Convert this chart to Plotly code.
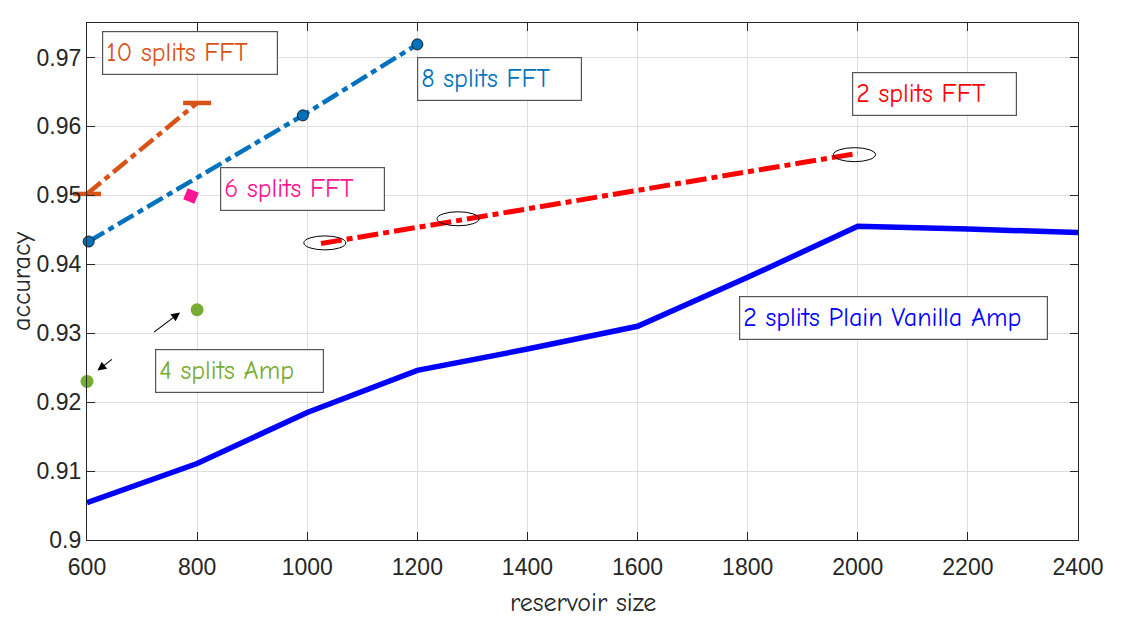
import plotly.graph_objects as go

# ---------------- data ----------------
vanilla_x = [600, 800, 1000, 1200, 1400, 1600, 1800, 2000, 2200, 2400]
vanilla_y = [0.9054, 0.9111, 0.9185, 0.9246, 0.9277, 0.9310, 0.9381, 0.9455, 0.9451, 0.9446]

fft2_x = [1025, 2000]
fft2_y = [0.9430, 0.9561]
fft2_circled_x = [1032, 1274, 1994]
fft2_circled_y = [0.9431, 0.9466, 0.9559]

fft8_x = [603, 992, 1200]
fft8_y = [0.9433, 0.9616, 0.9719]

fft10_x = [600, 800]
fft10_y = [0.9502, 0.9634]

fft6_x = [789]
fft6_y = [0.9499]

amp4_x = [600, 800]
amp4_y = [0.9230, 0.9334]

x_ticks = [600, 800, 1000, 1200, 1400, 1600, 1800, 2000, 2200, 2400]
y_ticks = [0.90, 0.91, 0.92, 0.93, 0.94, 0.95, 0.96, 0.97]
y_ticktext = ["0.9", "0.91", "0.92", "0.93", "0.94", "0.95", "0.96", "0.97"]

# labels: text, colour, left x, centre y, box width px
labels = [
    ("10 splits FFT", "#D95319", 627, 0.97062, 178),
    ("8 splits FFT", "#0072BD", 1199, 0.96694, 167),
    ("2 splits FFT", "#FF0000", 1990, 0.96467, 167),
    ("6 splits FFT", "#FF1493", 841, 0.95095, 167),
    ("4 splits Amp", "#77AC30", 723, 0.92449, 171),
    ("2 splits Plain Vanilla Amp", "#0000FF", 1785, 0.93220, 311),
]

# arrows pointing at the 4-split points: (head x, head y, tail x, tail y)
arrows = [
    (769, 0.9330, 719, 0.9300),
    (619, 0.92458, 648, 0.92637),
]

COMIC = "Comic Sans MS, Comic Neue, Noto Sans, sans-serif"
TICKFONT = "Liberation Sans, Arial, sans-serif"

fig = go.Figure()

fig.add_trace(go.Scatter(
    x=vanilla_x, y=vanilla_y, mode="lines",
    line=dict(color="#0000FF", width=5.5), showlegend=False))

fig.add_trace(go.Scatter(
    x=fft2_x, y=fft2_y, mode="lines",
    line=dict(color="#FF0000", width=5, dash="21px,5px,6px,5px"), showlegend=False))

fig.add_trace(go.Scatter(
    x=fft8_x, y=fft8_y, mode="lines+markers",
    line=dict(color="#0072BD", width=4.5, dash="18px,5px,6px,5px"),
    marker=dict(color="#0072BD", size=11, line=dict(color="#1a1a1a", width=1)),
    cliponaxis=False, showlegend=False))

fig.add_trace(go.Scatter(
    x=fft10_x, y=fft10_y, mode="lines+markers",
    line=dict(color="#D95319", width=4.5, dash="18px,5px,6px,5px"),
    marker=dict(symbol="line-ew", size=20, line=dict(color="#D95319", width=4.5)),
    cliponaxis=False, showlegend=False))

fig.add_trace(go.Scatter(
    x=fft6_x, y=fft6_y, mode="markers",
    marker=dict(symbol="square", size=12, angle=22, color="#FF1493",
                line=dict(width=0)),
    showlegend=False))

fig.add_trace(go.Scatter(
    x=amp4_x, y=amp4_y, mode="markers",
    marker=dict(color="#77AC30", size=13, line=dict(width=0)),
    cliponaxis=False, showlegend=False))

# ellipses around the 2-split FFT points (pixel-sized, anchored on data)
for cx, cy in zip(fft2_circled_x, fft2_circled_y):
    fig.add_shape(type="circle", xref="x", yref="y",
                  xsizemode="pixel", ysizemode="pixel",
                  xanchor=cx, yanchor=cy, x0=-21, x1=21, y0=-7, y1=7,
                  line=dict(color="black", width=1))

for text, color, lx, cy, w in labels:
    fig.add_annotation(
        x=lx, y=cy, xref="x", yref="y", xanchor="left", yanchor="middle",
        text=text, showarrow=False, align="left",
        width=w - 10, height=36, borderpad=3,
        font=dict(family=COMIC, size=26, color=color),
        bgcolor="white", bordercolor="#555555", borderwidth=1.2)

for hx, hy, tx, ty in arrows:
    fig.add_annotation(
        x=hx, y=hy, ax=tx, ay=ty, xref="x", yref="y", axref="x", ayref="y",
        text="", showarrow=True, arrowhead=2, arrowsize=1.6, arrowwidth=1.1,
        arrowcolor="black")

# axis titles
fig.add_annotation(x=0.5005, y=-0.121, xref="paper", yref="paper",
                   xanchor="center", yanchor="middle", showarrow=False,
                   text="reservoir size",
                   font=dict(family=COMIC, size=26, color="#262626"))
fig.add_annotation(x=-0.0656, y=0.501, xref="paper", yref="paper",
                   xanchor="center", yanchor="middle", showarrow=False,
                   text="accuracy", textangle=-90,
                   font=dict(family=COMIC, size=26, color="#262626"))

axis_common = dict(
    showgrid=True, gridcolor="#DEDEDE", gridwidth=1,
    showline=True, linecolor="#262626", linewidth=1.3, mirror="ticks",
    ticks="inside", ticklen=8, tickwidth=1.2, tickcolor="#262626",
    tickfont=dict(family=TICKFONT, size=23, color="#262626"),
    zeroline=False,
)

fig.update_xaxes(range=[600, 2400], tickvals=x_ticks, ticklabelstandoff=6,
                 **axis_common)
fig.update_yaxes(range=[0.9, 0.975], tickvals=y_ticks, ticktext=y_ticktext,
                 **axis_common)

fig.update_layout(
    width=1124, height=610,
    margin=dict(l=79, r=54, t=15, b=78, autoexpand=False),
    paper_bgcolor="white", plot_bgcolor="white",
    showlegend=False,
)

fig.write_html("out.html")
